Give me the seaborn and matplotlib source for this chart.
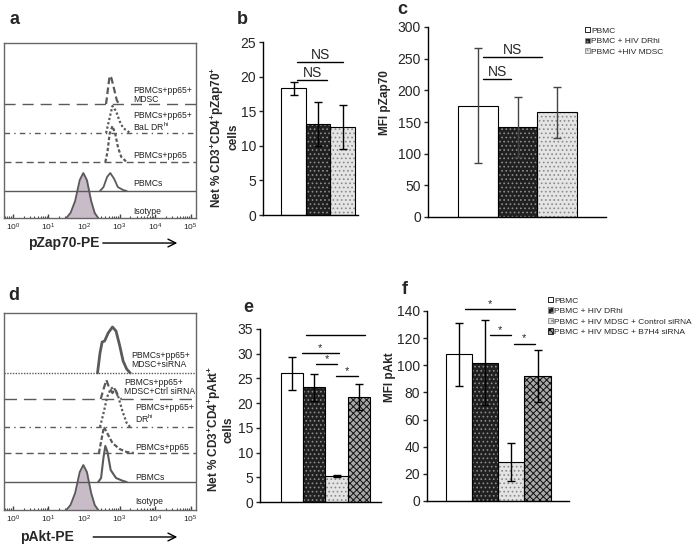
import numpy as np
import pandas as pd
import matplotlib
matplotlib.use("Agg")
import matplotlib.pyplot as plt
import seaborn as sns
from matplotlib.patches import Patch, Rectangle

# ---------------- bar data ----------------
zap_groups = ["PBMC", "PBMC + HIV DRhi", "PBMC +HIV MDSC"]
zap_pct = [18.3, 13.2, 12.7]
zap_pct_err = [0.9, 3.2, 3.2]
zap_mfi = [176, 142, 165]
zap_mfi_err = [91, 48, 41]

akt_groups = ["PBMC", "PBMC + HIV DRhi", "PBMC + HIV MDSC + Control siRNA",
              "PBMC + HIV MDSC + B7H4 siRNA"]
akt_pct = [26.0, 23.2, 5.3, 21.3]
akt_pct_err = [3.4, 2.7, 0.2, 2.6]
akt_mfi = [108, 102, 29, 92]
akt_mfi_err = [23.5, 31.5, 14, 19]

# significance brackets: (from bar, to bar, height, label)
zap_pct_sig = [(0.14, 2.02, 22.1, "NS"), (0.14, 1.37, 19.5, "NS")]
zap_mfi_sig = [(0.13, 1.62, 252, "NS"), (0.13, 0.84, 218, "NS")]
akt_pct_sig = [(0.63, 3.27, 33.8, ""), (0.45, 2.10, 30.1, "*"),
               (1.08, 2.02, 27.9, "*"), (1.97, 2.96, 25.5, "*")]
akt_mfi_sig = [(0.23, 2.13, 141.5, "*"), (1.18, 1.98, 122, "*"),
               (2.10, 2.90, 116, "*")]

# ---------------- histogram data (log10 intensity, height above offset) ----------------
iso_x = [1.50, 1.62, 1.75, 1.88, 1.98, 2.08, 2.20, 2.30, 2.40]
iso_h = [0, 5, 17, 38, 45, 38, 17, 5, 0]

zap_labels = ["Isotype", "PBMCs", "PBMCs+pp65", "PBMCs+pp65+\nBaL DR$^{\\mathrm{hi}}$",
              "PBMCs+pp65+\nMDSC"]
zap_offsets = [0, 27, 56, 85, 114]
zap_pbmc_x = [2.45, 2.55, 2.65, 2.74, 2.85, 2.95, 3.10, 3.20]
zap_pbmc_h = [0, 4, 14, 18, 12, 4, 1, 0]
zap_pp65_x = [2.60, 2.66, 2.72, 2.80, 2.88, 2.96, 3.05, 3.20]
zap_pp65_h = [0, 10, 28, 36, 28, 14, 5, 0]
zap_dr_x = [2.62, 2.70, 2.80, 2.90, 3.00, 3.10, 3.30]
zap_dr_h = [0, 12, 27, 22, 12, 5, 0]
zap_mdsc_x = [2.62, 2.67, 2.72, 2.77, 2.84, 2.92, 2.98]
zap_mdsc_h = [0, 14, 28, 26, 16, 4, 0]

akt_labels = ["Isotype", "PBMCs", "PBMCs+pp65", "PBMCs+pp65+\nDR$^{\\mathrm{hi}}$",
              "PBMCs+pp65+\nMDSC+Ctrl siRNA", "PBMCs+pp65+\nMDSC+siRNA"]
akt_offsets = [0, 28, 57, 83, 111, 137]
akt_pbmc_x = [2.40, 2.48, 2.55, 2.60, 2.66, 2.75, 2.90, 3.10, 3.20]
akt_pbmc_h = [0, 4, 25, 36, 30, 12, 4, 1, 0]
akt_pp65_x = [2.42, 2.50, 2.56, 2.65, 2.80, 3.00, 3.20, 3.40]
akt_pp65_h = [0, 15, 26, 20, 10, 4, 1, 0]
akt_dr_x = [2.45, 2.55, 2.65, 2.75, 2.83, 2.95, 3.08, 3.20, 3.30]
akt_dr_h = [0, 14, 30, 38, 40, 32, 16, 4, 0]
akt_ctrl_x = [2.47, 2.55, 2.63, 2.70, 2.80, 2.88, 2.95, 3.05]
akt_ctrl_h = [0, 10, 19, 12, 6, 10, 3, 0]
akt_si_x = [2.38, 2.45, 2.51, 2.58, 2.68, 2.80, 2.90, 3.00, 3.10, 3.20, 3.30]
akt_si_h = [0, 20, 31, 32, 40, 46, 42, 28, 12, 4, 0]

# ---------------- style ----------------
sns.set_style("ticks")
plt.rcParams["font.family"] = ["Liberation Sans", "DejaVu Sans"]
plt.rcParams["mathtext.fontset"] = "custom"
plt.rcParams["mathtext.rm"] = "Liberation Sans"
plt.rcParams["mathtext.bf"] = "Liberation Sans:bold"
plt.rcParams["hatch.linewidth"] = 0.7

# face colour, hatch pattern, hatch colour
bar_styles = [
    dict(face="white", hatch=None, hcol="black"),
    dict(face="#202020", hatch="....", hcol="#8c8c8c"),
    dict(face="#e4e4e4", hatch="....", hcol="#8a8a8a"),
    dict(face="#a8a8a8", hatch="xxxxx", hcol="#111111"),
]
GRAY = "#5a5a5a"
XMIN, XMAX = -0.25, 5.15

fig = plt.figure(figsize=(7, 5.45), dpi=100)
W, H = 700, 545


def px_axes(left, top, right, bottom):
    return fig.add_axes([left / W, 1 - bottom / H, (right - left) / W, (bottom - top) / H])


def style_patch(patch, st):
    patch.set_edgecolor(st["hcol"])
    patch.set_linewidth(0)
    if st["hatch"]:
        patch.set_hatch(st["hatch"])


def bar_panel(ax, groups, vals, errs, sig, xlim, ylim, yticks, ecolor="black"):
    df = pd.DataFrame({"group": groups, "value": vals})
    sns.barplot(data=df, x="group", y="value", hue="group", order=groups,
                hue_order=groups, palette=[s["face"] for s in bar_styles[:len(groups)]],
                width=1.0, errorbar=None, legend=False, ax=ax)
    for patch, st in zip(list(ax.patches), bar_styles):
        style_patch(patch, st)
        # black outline on top of the hatch
        ax.add_patch(Rectangle(patch.get_xy(), patch.get_width(), patch.get_height(),
                               fill=False, edgecolor="black", lw=0.8, zorder=patch.get_zorder() + 0.1))
    ax.errorbar(range(len(groups)), vals, yerr=errs, fmt="none", ecolor=ecolor,
                elinewidth=1.0, capsize=3, capthick=1.0, zorder=5)
    for x0, x1, y, lab in sig:
        ax.plot([x0, x1], [y, y], color="black", lw=1.0, clip_on=False)
        if lab == "NS":
            ax.text((x0 + x1) / 2, y, lab, ha="center", va="bottom", fontsize=10)
        elif lab:
            ax.text((x0 + x1) / 2, y, lab, ha="center", va="bottom", fontsize=8)
    ax.set_xlim(*xlim)
    ax.set_ylim(*ylim)
    ax.set_yticks(yticks)
    ax.set_xticks([])
    ax.set_xlabel("")
    ax.set_ylabel("")
    ax.tick_params(axis="y", labelsize=10, length=3, width=1, pad=2)
    sns.despine(ax=ax)
    for sp in ("left", "bottom"):
        ax.spines[sp].set_linewidth(1.0)
        ax.spines[sp].set_color("black")


def hist_curve(ax, xs, hs, off, **kw):
    ax.plot(10 ** np.asarray(xs), off + np.asarray(hs), **kw)


def hist_frame(ax, ymax, xlabel, label_pos):
    ax.set_xscale("log")
    ax.set_xlim(10 ** XMIN, 10 ** XMAX)
    ax.set_ylim(0, ymax)
    ax.set_yticks([])
    ax.set_xticks([10 ** k for k in range(6)])
    ax.tick_params(axis="x", which="major", direction="in", length=3, width=1,
                   labelsize=6, pad=3, color="#444444")
    ax.tick_params(axis="x", which="minor", direction="in", length=1.8, width=0.8,
                   color="#444444")
    for sp in ax.spines.values():
        sp.set_color("#666666")
        sp.set_linewidth(1.0)
    tx, ty, ax0, ax1 = label_pos
    ax.text(tx, ty, xlabel, transform=ax.transAxes, fontsize=10, fontweight="bold",
            ha="left", va="center")
    ax.annotate("", xy=(ax1, ty), xytext=(ax0, ty), xycoords="axes fraction",
                arrowprops=dict(arrowstyle="->", color="black", lw=1.0,
                                mutation_scale=14), annotation_clip=False)


def iso(ax):
    x = 10 ** np.asarray(iso_x)
    ax.fill_between(x, 0, iso_h, color="#c8bcc8", zorder=2)
    ax.plot(x, iso_h, color=GRAY, lw=1.3, zorder=3)


def legend_handles(n):
    return [Patch(facecolor=s["face"], edgecolor=s["hcol"] if s["hatch"] else "black",
                  hatch=s["hatch"], lw=0.6) for s in bar_styles[:n]]


# ---------------- panel a ----------------
ax_a = px_axes(4, 43, 196, 218)
hist_frame(ax_a, 175, "pZap70-PE", (0.125, -0.143, 0.50, 0.917))
iso(ax_a)
ax_a.axhline(zap_offsets[1], color=GRAY, lw=1.0)
hist_curve(ax_a, zap_pbmc_x, zap_pbmc_h, zap_offsets[1], color=GRAY, lw=1.3)
ax_a.axhline(zap_offsets[2], color=GRAY, lw=1.0, ls=(0, (5, 3)))
hist_curve(ax_a, zap_pp65_x, zap_pp65_h, zap_offsets[2], color=GRAY, lw=1.6, ls=(0, (1.5, 1)))
ax_a.axhline(zap_offsets[3], color=GRAY, lw=1.0, ls=(0, (4, 3, 1, 3)))
hist_curve(ax_a, zap_dr_x, zap_dr_h, zap_offsets[3], color=GRAY, lw=1.6, ls=(0, (1, 1)))
ax_a.axhline(zap_offsets[4], color=GRAY, lw=1.0, ls=(0, (8, 5)))
hist_curve(ax_a, zap_mdsc_x, zap_mdsc_h, zap_offsets[4], color=GRAY, lw=1.6, ls=(0, (3, 1.5)))
zap_label_y = [212, 184, 156, 122, 95]
for lab, yy in zip(zap_labels, zap_label_y):
    ax_a.text((133 - 4) / 192, (218 - yy) / 175, lab, transform=ax_a.transAxes,
              fontsize=6.2, ha="left", va="center", color="#222222", linespacing=1.0)

# ---------------- panel d ----------------
ax_d = px_axes(4, 313, 196, 510)
hist_frame(ax_d, 197, "pAkt-PE", (0.083, -0.137, 0.45, 0.917))
iso(ax_d)
ax_d.axhline(akt_offsets[1], color=GRAY, lw=1.0)
hist_curve(ax_d, akt_pbmc_x, akt_pbmc_h, akt_offsets[1], color=GRAY, lw=1.5)
ax_d.axhline(akt_offsets[2], color=GRAY, lw=1.0, ls=(0, (5, 3)))
hist_curve(ax_d, akt_pp65_x, akt_pp65_h, akt_offsets[2], color=GRAY, lw=1.6, ls=(0, (2, 1)))
ax_d.axhline(akt_offsets[3], color=GRAY, lw=1.0, ls=(0, (4, 3, 1, 3)))
hist_curve(ax_d, akt_dr_x, akt_dr_h, akt_offsets[3], color=GRAY, lw=1.6, ls=(0, (1, 1)))
ax_d.axhline(akt_offsets[4], color=GRAY, lw=1.0, ls=(0, (9, 5)))
hist_curve(ax_d, akt_ctrl_x, akt_ctrl_h, akt_offsets[4], color=GRAY, lw=1.6, ls=(0, (3, 1.5)))
ax_d.axhline(akt_offsets[5], color=GRAY, lw=1.0, ls=(0, (1, 1)))
hist_curve(ax_d, akt_si_x, akt_si_h, akt_offsets[5], color=GRAY, lw=2.0)
akt_label_y = [501, 477, 448, 414, 387, 360]
akt_label_x = [135, 135, 135, 135, 124, 131]
for lab, xx, yy in zip(akt_labels, akt_label_x, akt_label_y):
    ax_d.text((xx - 4) / 192, (510 - yy) / 197, lab, transform=ax_d.transAxes,
              fontsize=6.2, ha="left", va="center", color="#222222", linespacing=1.0)

# ---------------- panel b ----------------
ax_b = px_axes(263, 42, 358, 215)
bar_panel(ax_b, zap_groups, zap_pct, zap_pct_err, zap_pct_sig, (-1.245, 2.63), (0, 25),
          range(0, 26, 5))
ax_b.text(-0.41, 0.45, "Net % CD3$^{\\mathbf{+}}$CD4$^{\\mathbf{+}}$pZap70$^{\\mathbf{+}}$\ncells",
          transform=ax_b.transAxes, rotation=90, ha="center", va="center",
          fontsize=8.5, fontweight="bold", linespacing=1.1)

# ---------------- panel c ----------------
ax_c = px_axes(428, 27, 606, 217)
bar_panel(ax_c, zap_groups, zap_mfi, zap_mfi_err, zap_mfi_sig, (-1.27, 3.24), (0, 300),
          range(0, 301, 50), ecolor="#444444")
ax_c.text(-0.24, 0.6, "MFI pZap70", transform=ax_c.transAxes, rotation=90,
          ha="center", va="center", fontsize=8.5, fontweight="bold")
fig.legend(legend_handles(3), zap_groups, loc="upper left", bbox_to_anchor=(585 / W, 1 - 27 / H),
           frameon=False, fontsize=6, handlelength=0.6, handleheight=0.6,
           handletextpad=0.15, labelspacing=0.35, borderpad=0, borderaxespad=0)

# ---------------- panel e ----------------
ax_e = px_axes(260, 329, 381, 502)
bar_panel(ax_e, akt_groups, akt_pct, akt_pct_err, akt_pct_sig, (-1.43, 3.99), (0, 35),
          range(0, 36, 5))
ax_e.text(-0.33, 0.42, "Net % CD3$^{\\mathbf{+}}$CD4$^{\\mathbf{+}}$pAkt$^{\\mathbf{+}}$\ncells",
          transform=ax_e.transAxes, rotation=90, ha="center", va="center",
          fontsize=8.5, fontweight="bold", linespacing=1.0)

# ---------------- panel f ----------------
ax_f = px_axes(427, 311, 569, 501)
bar_panel(ax_f, akt_groups, akt_mfi, akt_mfi_err, akt_mfi_sig, (-1.22, 4.2), (0, 140),
          range(0, 141, 20))
ax_f.text(-0.26, 0.65, "MFI pAkt", transform=ax_f.transAxes, rotation=90,
          ha="center", va="center", fontsize=8.5, fontweight="bold")
fig.legend(legend_handles(4), akt_groups, loc="upper left", bbox_to_anchor=(548 / W, 1 - 297 / H),
           frameon=False, fontsize=6, handlelength=0.6, handleheight=0.6,
           handletextpad=0.15, labelspacing=0.35, borderpad=0, borderaxespad=0)

# ---------------- panel letters ----------------
for letter, x, y in [("a", 15, 19), ("b", 242, 20), ("c", 402, 9),
                     ("d", 14, 295), ("e", 248, 307), ("f", 405, 289)]:
    fig.text(x / W, 1 - y / H, letter, fontsize=13, fontweight="bold",
             ha="center", va="center")

fig.savefig("out.png", dpi=100)
